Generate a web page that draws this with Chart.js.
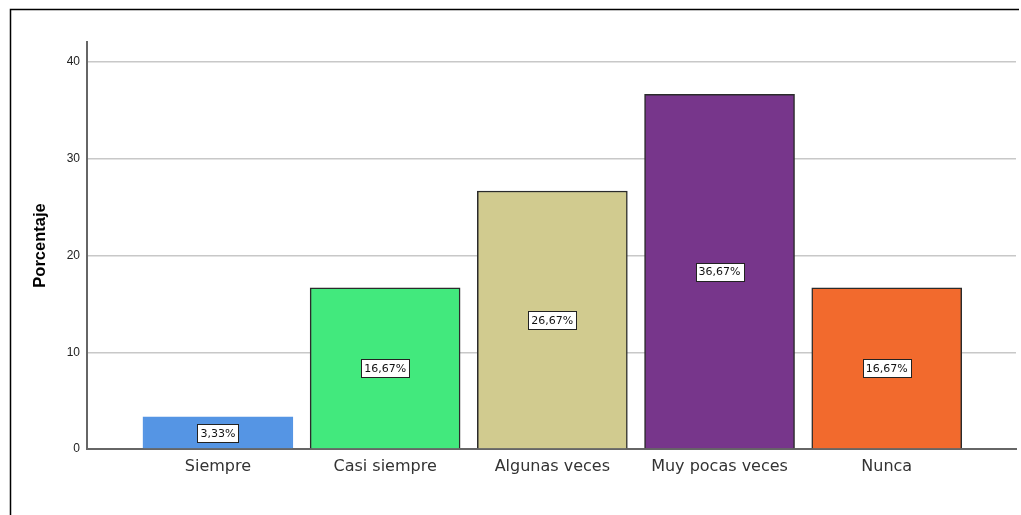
<!DOCTYPE html>
<html>
<head>
<meta charset="utf-8">
<script src="https://cdn.jsdelivr.net/npm/chart.js@4"></script>
<style>
  html, body { margin: 0; padding: 0; background: #ffffff; }
  #wrap { position: relative; width: 1021px; height: 515px; }
</style>
</head>
<body>
<div id="wrap"><canvas id="chart" width="1021" height="515"></canvas></div>
<script>
// ===== Datos =====
const categories = ["Siempre", "Casi siempre", "Algunas veces", "Muy pocas veces", "Nunca"];
const percentages = [3.33, 16.67, 26.67, 36.67, 16.67];
const barColors = ["#5595e4", "#42e97d", "#d1cb8f", "#77368b", "#f26a2d"];
const borderColors = ["#5595e4", "#2b2b2b", "#2b2b2b", "#2b2b2b", "#2b2b2b"];
const yTicks = [0, 10, 20, 30, 40];

// ===== Marco exterior =====
const framePlugin = {
  id: "frame",
  beforeDraw(chart) {
    const ctx = chart.ctx;
    ctx.save();
    ctx.fillStyle = "#ffffff";
    ctx.fillRect(0, 0, chart.width, chart.height);
    ctx.strokeStyle = "#000000";
    ctx.lineWidth = 1.5;
    ctx.beginPath();
    ctx.moveTo(10.5, 515);
    ctx.lineTo(10.5, 9.5);
    ctx.lineTo(1019, 9.5);
    ctx.stroke();
    ctx.restore();
  }
};

// ===== Etiquetas con caja blanca =====
const boxLabels = {
  id: "boxLabels",
  afterDatasetsDraw(chart) {
    const ctx = chart.ctx;
    const meta = chart.getDatasetMeta(0);
    const yScale = chart.scales.y;
    ctx.save();
    ctx.font = "11px 'DejaVu Sans', sans-serif";
    ctx.textAlign = "center";
    ctx.textBaseline = "middle";
    meta.data.forEach((bar, i) => {
      const v = percentages[i];
      const txt = v.toFixed(2).replace(".", ",") + "%";
      const cy = yScale.getPixelForValue(v / 2);
      const w = Math.round(ctx.measureText(txt).width + 6);
      const h = 18;
      const x0 = Math.round(bar.x - w / 2) + 0.5;
      const y0 = Math.round(cy - h / 2) + 0.5;
      ctx.fillStyle = "#ffffff";
      ctx.fillRect(x0, y0, w, h);
      ctx.strokeStyle = "#222222";
      ctx.lineWidth = 1;
      ctx.strokeRect(x0, y0, w, h);
      ctx.fillStyle = "#111111";
      ctx.fillText(txt, bar.x, cy + 1);
    });
    ctx.restore();
  }
};

new Chart(document.getElementById("chart"), {
  type: "bar",
  data: {
    datasets: [{
      data: percentages.map((v, i) => ({ x: i, y: v })),
      backgroundColor: barColors,
      borderColor: borderColors,
      borderWidth: 1.5,
      barThickness: 150,
    }]
  },
  options: {
    responsive: false,
    animation: false,
    devicePixelRatio: 1,
    layout: { padding: { left: 28, top: 42, right: 5, bottom: 0 } },
    plugins: {
      legend: { display: false },
      tooltip: { enabled: false },
    },
    scales: {
      x: {
        type: "linear",
        offset: false,
        min: -0.783,
        max: 4.773,
        afterBuildTicks: (scale) => { scale.ticks = categories.map((c, i) => ({ value: i })); },
        afterFit: (scale) => { scale.height = 66; },
        ticks: {
          callback: (v) => categories[v],
          color: "#333333",
          font: { family: "'DejaVu Sans', sans-serif", size: 16 },
          padding: 8,
          maxRotation: 0,
          autoSkip: false,
        },
        grid: { display: false, drawTicks: false },
        border: { display: true, color: "#666666", width: 2 },
      },
      y: {
        min: 0,
        max: 42.07,
        afterBuildTicks: (scale) => { scale.ticks = yTicks.map((v) => ({ value: v })); },
        afterFit: (scale) => { scale.width = 59; },
        ticks: {
          color: "#222222",
          font: { family: "'Liberation Sans', Arial, sans-serif", size: 12 },
          padding: 7,
        },
        grid: { color: "#c8c8c8", lineWidth: 1.5, drawTicks: false },
        border: { display: true, color: "#666666", width: 2 },
        title: {
          display: true,
          text: "Porcentaje",
          color: "#000000",
          font: { family: "'Liberation Sans', Arial, sans-serif", size: 16.5, weight: "bold" },
          padding: { top: 3, bottom: 4 },
        },
      },
    },
  },
  plugins: [framePlugin, boxLabels],
});
</script>
</body>
</html>
